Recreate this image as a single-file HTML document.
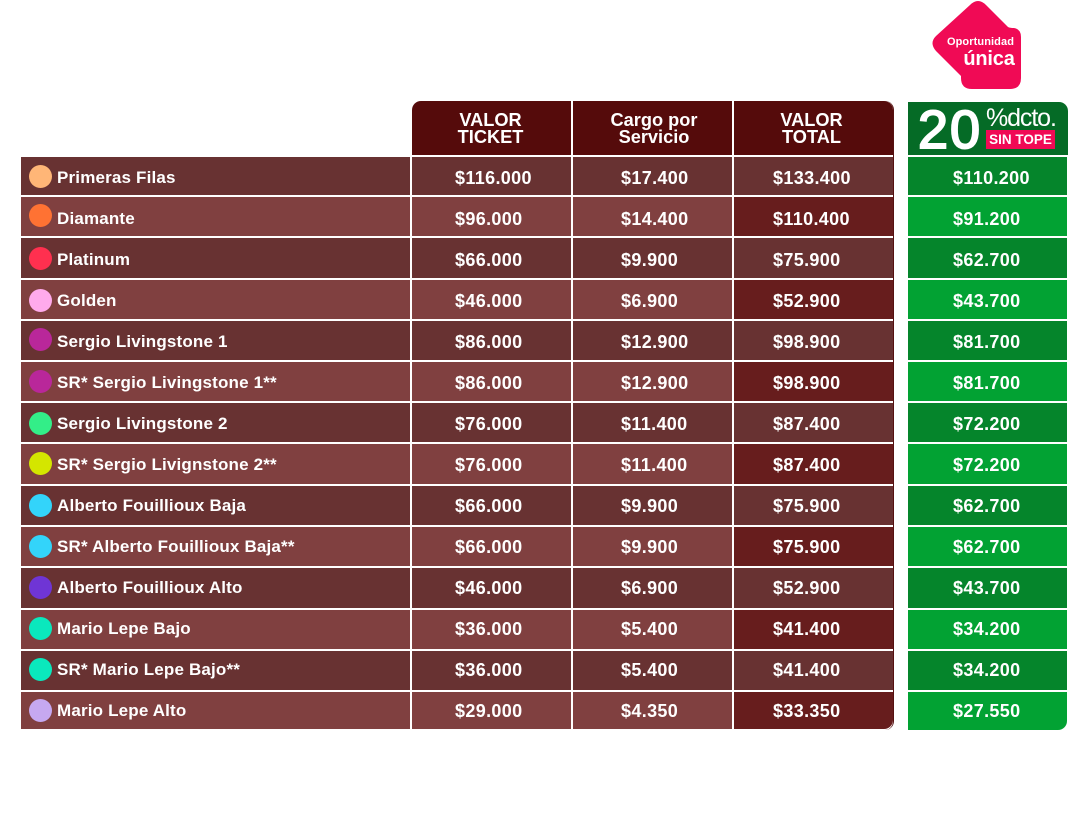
<!DOCTYPE html>
<html lang="es">
<head>
<meta charset="utf-8">
<title>Valores de entradas</title>
<style>
html,body{margin:0;padding:0;background:#fff}
body{position:relative;width:1080px;height:827px;overflow:hidden;font-family:"Liberation Sans",sans-serif;font-weight:bold;color:#fff}
.row{position:absolute;left:0;width:1080px}
.c{position:absolute;top:0;height:100%;display:flex;align-items:flex-start;justify-content:flex-start;font-size:18px;line-height:22px;letter-spacing:.35px;padding-top:calc(var(--p) + 1px);box-sizing:border-box;white-space:nowrap}
.l{left:21px;width:389px;padding-left:36px;font-size:17px;letter-spacing:.17px}
.a{left:412px;width:159px;padding-left:43px}
.b{left:573px;width:159px;padding-left:48px}
.t{left:734px;width:159px;padding-left:39px}
.g{left:908px;width:159px;padding-left:45px}
.odd .l,.odd .a,.odd .b,.odd .t{background:#683232}
.even .l,.even .a,.even .b{background:#804040}
.even .t{background:#671d1d}
.odd .g{background:#05852b}
.even .g{background:#02a233}
.dot{position:absolute;left:8px;width:23px;height:23px;border-radius:50%}
.h{position:absolute;top:101px;height:54px;background:#550b0b;text-align:center;font-size:18.2px;line-height:17px;padding-top:11px;box-sizing:border-box}
</style>
</head>
<body>

<svg style="position:absolute;left:925px;top:0" width="105" height="95">
<path d="M45,5 Q53,-3 61,5 L83,27 Q85,28 89,28 Q96,29 96,37 L96,78 Q96,89 85,89 L47,89 Q36,89 36,78 L36,76 L11,51 Q4,43 11,36 Z" fill="#f00a55"/>
<text x="55.5" y="45" font-family="Liberation Sans, sans-serif" font-weight="bold" font-size="11" letter-spacing=".1" fill="#fff" text-anchor="middle">Oportunidad</text>
<text x="64" y="65" font-family="Liberation Sans, sans-serif" font-weight="bold" font-size="20" letter-spacing="-.2" fill="#fff" text-anchor="middle">única</text>
</svg>

<div class="h" style="left:412px;width:159px;padding-right:2px;border-top-left-radius:9px">VALOR<br>TICKET</div>
<div class="h" style="left:573px;width:159px;padding-left:3px">Cargo por<br>Servicio</div>
<div class="h" style="left:734px;width:159px;padding-right:4px;border-top-right-radius:9px">VALOR<br>TOTAL</div>
<div style="position:absolute;left:880px;top:101px;width:14px;height:629px;box-sizing:border-box;border-right:1.5px solid #551010;border-radius:0 9px 9px 0"></div>

<div style="position:absolute;left:908px;top:102px;width:160px;height:53px;background:#056b26;border-top-right-radius:9px;overflow:hidden">
  <span style="position:absolute;left:10px;top:-4px;font-size:54px;line-height:64px;font-weight:normal;letter-spacing:2px;-webkit-text-stroke:2px #fff">20</span>
  <span style="position:absolute;left:78px;top:1px;font-size:25px;line-height:30px;font-weight:normal;letter-spacing:-1.1px;white-space:nowrap">%dcto.</span>
  <span style="position:absolute;left:78px;top:28px;width:69px;height:19px;background:#f00a55;font-size:13.5px;line-height:20px;text-align:center;white-space:nowrap">SIN TOPE</span>
</div>

<div class="row odd" style="top:157px;height:38px;--p:9px"><div class="c l"><span class="dot" style="top:8px;background:#ffb677"></span>Primeras Filas</div><div class="c a">$116.000</div><div class="c b">$17.400</div><div class="c t">$133.400</div><div class="c g">$110.200</div></div>

<div class="row even" style="top:197px;height:39px;--p:10px"><div class="c l"><span class="dot" style="top:7px;background:#ff7233"></span>Diamante</div><div class="c a">$96.000</div><div class="c b">$14.400</div><div class="c t">$110.400</div><div class="c g">$91.200</div></div>

<div class="row odd" style="top:238px;height:40px;--p:10px"><div class="c l"><span class="dot" style="top:9px;background:#ff304f"></span>Platinum</div><div class="c a">$66.000</div><div class="c b">$9.900</div><div class="c t">$75.900</div><div class="c g">$62.700</div></div>

<div class="row even" style="top:280px;height:39px;--p:9px"><div class="c l"><span class="dot" style="top:9px;background:#ffaaec"></span>Golden</div><div class="c a">$46.000</div><div class="c b">$6.900</div><div class="c t">$52.900</div><div class="c g">$43.700</div></div>

<div class="row odd" style="top:321px;height:39px;--p:9px"><div class="c l"><span class="dot" style="top:7px;background:#b9279a"></span>Sergio Livingstone 1</div><div class="c a">$86.000</div><div class="c b">$12.900</div><div class="c t">$98.900</div><div class="c g">$81.700</div></div>

<div class="row even" style="top:362px;height:39px;--p:9px"><div class="c l"><span class="dot" style="top:8px;background:#b9279a"></span>SR* Sergio Livingstone 1**</div><div class="c a">$86.000</div><div class="c b">$12.900</div><div class="c t">$98.900</div><div class="c g">$81.700</div></div>

<div class="row odd" style="top:403px;height:39px;--p:9px"><div class="c l"><span class="dot" style="top:9px;background:#33ee88"></span>Sergio Livingstone 2</div><div class="c a">$76.000</div><div class="c b">$11.400</div><div class="c t">$87.400</div><div class="c g">$72.200</div></div>

<div class="row even" style="top:444px;height:40px;--p:9px"><div class="c l"><span class="dot" style="top:8px;background:#d4e600"></span>SR* Sergio Livignstone 2**</div><div class="c a">$76.000</div><div class="c b">$11.400</div><div class="c t">$87.400</div><div class="c g">$72.200</div></div>

<div class="row odd" style="top:486px;height:39px;--p:8px"><div class="c l"><span class="dot" style="top:8px;background:#33d4fa"></span>Alberto Fouillioux Baja</div><div class="c a">$66.000</div><div class="c b">$9.900</div><div class="c t">$75.900</div><div class="c g">$62.700</div></div>

<div class="row even" style="top:527px;height:39px;--p:8px"><div class="c l"><span class="dot" style="top:8px;background:#33d4fa"></span>SR* Alberto Fouillioux Baja**</div><div class="c a">$66.000</div><div class="c b">$9.900</div><div class="c t">$75.900</div><div class="c g">$62.700</div></div>

<div class="row odd" style="top:568px;height:40px;--p:8px"><div class="c l"><span class="dot" style="top:8px;background:#6f35d5"></span>Alberto Fouillioux Alto</div><div class="c a">$46.000</div><div class="c b">$6.900</div><div class="c t">$52.900</div><div class="c g">$43.700</div></div>

<div class="row even" style="top:610px;height:39px;--p:7px"><div class="c l"><span class="dot" style="top:7px;background:#0ae8bd"></span>Mario Lepe Bajo</div><div class="c a">$36.000</div><div class="c b">$5.400</div><div class="c t">$41.400</div><div class="c g">$34.200</div></div>

<div class="row odd" style="top:651px;height:39px;--p:7px"><div class="c l"><span class="dot" style="top:7px;background:#0ae8bd"></span>SR* Mario Lepe Bajo**</div><div class="c a">$36.000</div><div class="c b">$5.400</div><div class="c t">$41.400</div><div class="c g">$34.200</div></div>

<div class="row even" style="top:692px;height:37px;--p:7px"><div class="c l"><span class="dot" style="top:7px;background:#c6a8f0"></span>Mario Lepe Alto</div><div class="c a">$29.000</div><div class="c b">$4.350</div><div class="c t" style="border-bottom-right-radius:9px">$33.350</div><div class="c g" style="height:38px;border-bottom-right-radius:9px">$27.550</div></div>

</body>
</html>
